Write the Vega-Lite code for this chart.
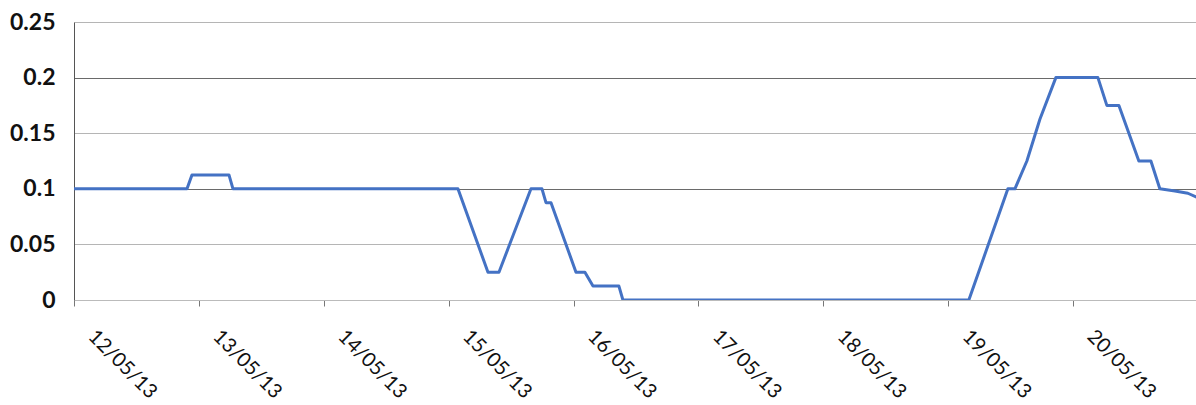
{
  "$schema": "https://vega.github.io/schema/vega-lite/v6.json",
  "width": 1124,
  "height": 278,
  "autosize": {"type": "none"},
  "padding": {"left": 74, "top": 22, "right": 0, "bottom": 105},
  "background": "white",
  "data": {
    "values": [
      {"time": "2013-05-12T00:00:00Z", "value": 0.1},
      {"time": "2013-05-12T21:43:00Z", "value": 0.1},
      {"time": "2013-05-12T22:40:00Z", "value": 0.1125},
      {"time": "2013-05-13T05:47:00Z", "value": 0.1125},
      {"time": "2013-05-13T06:33:00Z", "value": 0.1},
      {"time": "2013-05-15T01:47:00Z", "value": 0.1},
      {"time": "2013-05-15T07:33:00Z", "value": 0.025},
      {"time": "2013-05-15T09:40:00Z", "value": 0.025},
      {"time": "2013-05-15T15:49:00Z", "value": 0.1},
      {"time": "2013-05-15T17:56:00Z", "value": 0.1},
      {"time": "2013-05-15T18:42:00Z", "value": 0.0875},
      {"time": "2013-05-15T19:40:00Z", "value": 0.0875},
      {"time": "2013-05-16T00:28:00Z", "value": 0.025},
      {"time": "2013-05-16T02:11:00Z", "value": 0.025},
      {"time": "2013-05-16T03:44:00Z", "value": 0.0125},
      {"time": "2013-05-16T08:43:00Z", "value": 0.0125},
      {"time": "2013-05-16T09:29:00Z", "value": 0},
      {"time": "2013-05-19T03:58:00Z", "value": 0},
      {"time": "2013-05-19T11:28:00Z", "value": 0.1},
      {"time": "2013-05-19T12:49:00Z", "value": 0.1},
      {"time": "2013-05-19T15:07:00Z", "value": 0.125},
      {"time": "2013-05-19T17:37:00Z", "value": 0.1625},
      {"time": "2013-05-19T20:41:00Z", "value": 0.2},
      {"time": "2013-05-20T04:46:00Z", "value": 0.2},
      {"time": "2013-05-20T06:29:00Z", "value": 0.175},
      {"time": "2013-05-20T08:48:00Z", "value": 0.175},
      {"time": "2013-05-20T12:38:00Z", "value": 0.125},
      {"time": "2013-05-20T14:57:00Z", "value": 0.125},
      {"time": "2013-05-20T16:40:00Z", "value": 0.1},
      {"time": "2013-05-20T19:34:00Z", "value": 0.098},
      {"time": "2013-05-20T22:03:00Z", "value": 0.096},
      {"time": "2013-05-20T23:58:00Z", "value": 0.092}
    ]
  },
  "mark": {"type": "line", "color": "#4472C4", "strokeWidth": 3, "strokeJoin": "round", "clip": true},
  "encoding": {
    "x": {
      "field": "time",
      "type": "temporal",
      "scale": {
        "type": "utc",
        "domain": [
          {"year": 2013, "month": 5, "date": 12, "utc": true},
          {"year": 2013, "month": 5, "date": 21, "utc": true}
        ]
      },
      "axis": {
        "title": null,
        "grid": false,
        "values": [
          {"year": 2013, "month": 5, "date": 12, "utc": true},
          {"year": 2013, "month": 5, "date": 13, "utc": true},
          {"year": 2013, "month": 5, "date": 14, "utc": true},
          {"year": 2013, "month": 5, "date": 15, "utc": true},
          {"year": 2013, "month": 5, "date": 16, "utc": true},
          {"year": 2013, "month": 5, "date": 17, "utc": true},
          {"year": 2013, "month": 5, "date": 18, "utc": true},
          {"year": 2013, "month": 5, "date": 19, "utc": true},
          {"year": 2013, "month": 5, "date": 20, "utc": true}
        ],
        "format": "%d/%m/%y",
        "domainColor": "#bbbbbb",
        "tickColor": "#777777",
        "tickSize": 6,
        "labelAngle": 45,
        "labelAlign": "left",
        "labelBaseline": "top",
        "labelOffset": 24,
        "labelPadding": 20,
        "labelFont": "Lato",
        "labelFontSize": 20,
        "labelColor": "#111111",
        "labelOverlap": false,
        "labelFlush": false
      }
    },
    "y": {
      "field": "value",
      "type": "quantitative",
      "scale": {"domain": [0, 0.25], "nice": false, "zero": true},
      "axis": {
        "title": null,
        "values": [0, 0.05, 0.1, 0.15, 0.2, 0.25],
        "format": "~g",
        "ticks": false,
        "labelPadding": 19,
        "labelFont": "Lato",
        "labelFontSize": 23,
        "labelFontWeight": "bold",
        "labelColor": "#111111",
        "domainColor": "#555555",
        "gridColor": {
          "condition": {"test": "datum.value == 0.2 || datum.value == 0.1", "value": "#6a6a6a"},
          "value": "#b5b5b5"
        }
      }
    }
  },
  "config": {"view": {"stroke": null}}
}
